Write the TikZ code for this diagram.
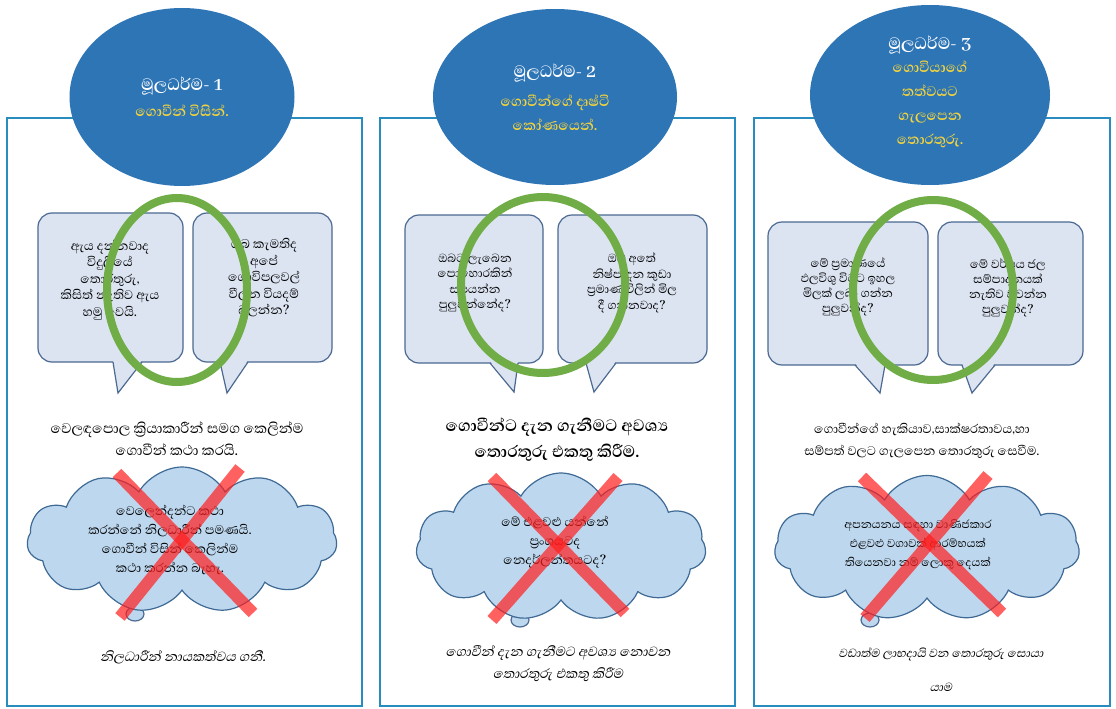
\documentclass[tikz,border=0pt]{standalone}
\usepackage{fontspec}
\usepackage{tikz}
\usetikzlibrary{shapes.geometric,shapes.symbols}
\newfontfamily\sinfont[Script=Sinhala,AutoFakeSlant=0.2]{Abhaya Libre}
\definecolor{panelblue}{RGB}{40,140,190}
\definecolor{headblue}{RGB}{46,117,182}
\definecolor{headyellow}{RGB}{242,211,60}
\definecolor{bubblefill}{RGB}{220,228,242}
\definecolor{bubbleline}{RGB}{75,105,145}
\definecolor{ringgreen}{RGB}{112,173,71}
\definecolor{cloudfill}{RGB}{189,215,238}
\definecolor{cloudline}{RGB}{62,106,149}
\definecolor{crossred}{RGB}{255,30,30}

\begin{document}
\begin{tikzpicture}[x=1pt,y=-1pt]
  \tikzstyle{every node}=[font=\sinfont, align=center, inner sep=0pt]
  \tikzstyle{panel}=[draw=panelblue, line width=2.5pt, fill=white]
  \tikzstyle{head}=[ellipse, fill=headblue]
  \tikzstyle{headtxt}=[text=white, font=\sinfont\bfseries\fontsize{21}{24}\selectfont]
  \tikzstyle{subtxt}=[text=headyellow, font=\sinfont\bfseries\fontsize{18}{24}\selectfont]
  \tikzstyle{bubble}=[draw=bubbleline, fill=bubblefill, line width=1.2pt, rounded corners=14pt]
  \tikzstyle{tail}=[draw=bubbleline, line width=1.2pt]
  \tikzstyle{ring}=[draw=ringgreen, line width=8pt]
  \tikzstyle{puff}=[cloud, cloud puffs=11, cloud puff arc=120, aspect=2.1, draw=cloudline, fill=cloudfill, line width=1.2pt]
  \tikzstyle{cross}=[draw=crossred, line width=12pt, opacity=0.7]
  \tikzstyle{midtxt}=[font=\sinfont\fontsize{18}{22}\selectfont]
  \tikzstyle{lowtxt}=[font=\sinfont\itshape\fontsize{17}{22}\selectfont]
  \useasboundingbox[fill=white] (0,0) rectangle (1116,709);

  \draw[panel] (7,118) rectangle (362,706);
  \draw[panel] (380,118) rectangle (735,706);
  \draw[panel] (754,118) rectangle (1110,706);

  \node[head, minimum width=225pt, minimum height=178pt] (h1) at (182,97) {};
  \node[headtxt] (h1a) at (182,86) {මූලධර්ම- 1};
  \node[subtxt] (h1b) at (182,111) {ගොවීන් විසින්.};
  \node[head, minimum width=244pt, minimum height=176pt] (h2) at (555,97) {};
  \node[headtxt] (h2a) at (555,73) {මූලධර්ම- 2};
  \node[subtxt] (h2b) at (555,113) {ගොවීන්ගේ දෘෂ්ටි\\කෝණයෙන්.};
  \node[head, minimum width=240pt, minimum height=180pt] (h3) at (930,95) {};
  \node[headtxt] (h3a) at (930,45) {මූලධර්ම- 3};
  \node[subtxt] (h3b) at (930,104) {ගොවියාගේ\\තත්වයට\\ගැලපෙන\\තොරතුරු.};

  \draw[bubble] (38,213) rectangle (183,362);
  \fill[bubblefill] (113,360) -- (118,393) -- (142,360) -- cycle;
  \draw[tail] (113,362) -- (118,393) -- (142,362);
  \node[font=\sinfont\fontsize{16}{16.5}\selectfont] (b1l) at (110,280) {ඇය දන්නවාද\\විදුලියේ\\තොරතුරු,\\කිසිත් නැතිව ඇය\\හමු වෙයි.};
  \draw[bubble] (193,213) rectangle (332,362);
  \fill[bubblefill] (220,360) -- (227,393) -- (248,360) -- cycle;
  \draw[tail] (220,362) -- (227,393) -- (248,362);
  \node[font=\sinfont\fontsize{16}{16.5}\selectfont] (b1r) at (264,278) {ඔබ කැමතිද\\අපේ\\ගොවිපලවල්\\වීලන වියදම්\\බලන්න?};
  \draw[ring] (177,290) ellipse (70 and 92);

  \draw[bubble] (405,215) rectangle (543,363);
  \fill[bubblefill] (490,361) -- (514,392) -- (518,361) -- cycle;
  \draw[tail] (490,363) -- (514,392) -- (518,363);
  \node[font=\sinfont\fontsize{15}{15.5}\selectfont] (b2l) at (475,283) {ඔබට ලැබෙන\\පොහොරකින්\\සපයන්න\\පුලුවන්නේද?};
  \draw[bubble] (558,215) rectangle (707,363);
  \fill[bubblefill] (586,361) -- (594,392) -- (616,361) -- cycle;
  \draw[tail] (586,363) -- (594,392) -- (616,363);
  \node[font=\sinfont\fontsize{15}{15.5}\selectfont] (b2r) at (632,283) {ඔබ අතේ\\නිෂ්පාදන කුඩා\\ප්‍රමාණ විලින් මිල\\දී ගන්නවාද?};
  \draw[ring] (543,285) ellipse (82 and 88);

  \draw[bubble] (768,222) rectangle (928,365);
  \fill[bubblefill] (855,363) -- (880,393) -- (885,363) -- cycle;
  \draw[tail] (855,365) -- (880,393) -- (885,365);
  \node[font=\sinfont\fontsize{15}{15}\selectfont] (b3l) at (848,287) {මේ ප්‍රමාණයේ\\ඵලවිශු විටට ඉහල\\මිලක් ලබා ගන්න\\පුලුවන්ද?};
  \draw[bubble] (938,222) rectangle (1083,365);
  \fill[bubblefill] (962,363) -- (972,393) -- (995,363) -- cycle;
  \draw[tail] (962,365) -- (972,393) -- (995,365);
  \node[font=\sinfont\fontsize{15}{15}\selectfont] (b3r) at (1008,288) {මේ වර්ෂය ජල\\සම්පාදනයක්\\නැතිව වවන්න\\පුලුවන්ද?};
  \draw[ring] (933,290) ellipse (80 and 90);

  \node[midtxt] (m1) at (177,439) {වෙලඳපොල ක්‍රියාකාරීන් සමග කෙලින්ම\\ගොවීන් කථා කරයි.};
  \node[midtxt, font=\sinfont\bfseries\fontsize{21}{26}\selectfont] (m2) at (557,440) {ගොවීන්ට දැන ගැනීමට අවශ්‍ය\\තොරතුරු එකතු කිරීම.};
  \node[midtxt, font=\sinfont\fontsize{16}{22}\selectfont] (m3) at (922,441) {ගොවීන්ගේ හැකියාව,සාක්ෂරතාවය,හා\\සම්පත් වලට ගැලපෙන තොරතුරු සෙවීම.};

  \draw[tail, fill=cloudfill] (135,614) ellipse (9 and 7);
  \node[puff, minimum width=310pt, minimum height=146pt] (c1) at (182,540) {};
  \node[font=\sinfont\fontsize{16}{19}\selectfont] (c1t) at (170,540) {වෙලෙන්දන්ට කථා\\කරන්නේ නිලධාරීන් පමණයි.\\ගොවීන් විසින් කෙලින්ම\\කථා කරන්න බැහැ.};
  \draw[tail, fill=cloudfill] (520,620) ellipse (9 and 7);
  \node[puff, minimum width=290pt, minimum height=148pt] (c2) at (561,547) {};
  \node[font=\sinfont\fontsize{16}{19}\selectfont] (c2t) at (555,542) {මේ එළවළු යන්නේ\\ප්‍රංශයටද\\නෙදර්ලන්තයටද?};
  \draw[tail, fill=cloudfill] (870,620) ellipse (9 and 7);
  \node[puff, minimum width=305pt, minimum height=145pt] (c3) at (927,548) {};
  \node[font=\sinfont\fontsize{14.5}{19}\selectfont] (c3t) at (918,545) {අපනයනය සඳහා වාණිජකාර\\එළවළු වගාවක් ආරම්භයක්\\තියෙනවා නම් ලොකු දෙයක්};

  \draw[cross] (117,473) -- (253,613);
  \draw[cross] (240,468) -- (120,617);
  \draw[cross] (492,477) -- (625,613);
  \draw[cross] (618,477) -- (492,620);
  \draw[cross] (862,477) -- (1002,613);
  \draw[cross] (988,475) -- (865,618);

  \node[lowtxt] (l1) at (183,657) {නිලධාරීන් නායකත්වය ගනී.};
  \node[lowtxt] (l2) at (558,664) {ගොවීන් දැන ගැනීමට අවශ්‍ය නොවන\\තොරතුරු එකතු කිරීම};
  \node[lowtxt, font=\sinfont\itshape\fontsize{15}{34}\selectfont] (l3) at (941,670) {වඩාත්ම ලාභදායි වන තොරතුරු සොයා\\යාම};
\end{tikzpicture}
\end{document}
